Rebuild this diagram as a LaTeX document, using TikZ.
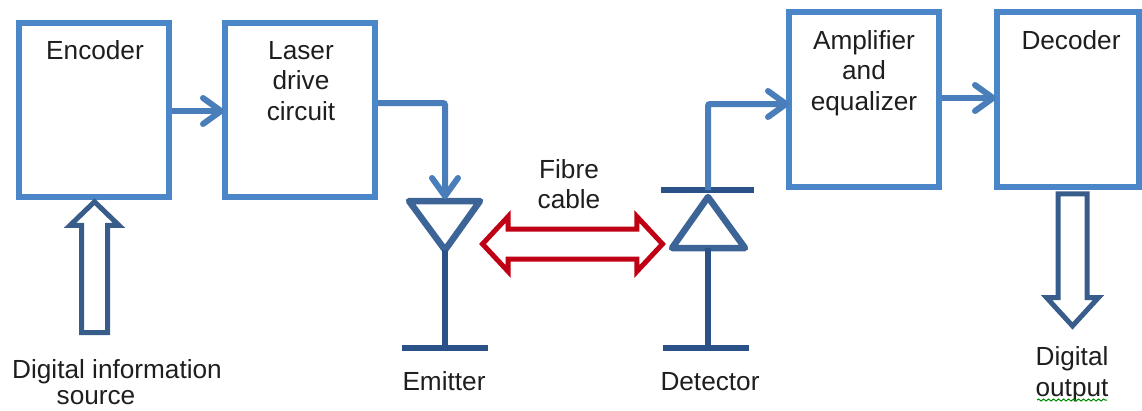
\documentclass[tikz,border=0pt]{standalone}
\usepackage{fontspec}
\setmainfont{Liberation Sans}
\usetikzlibrary{arrows.meta,shapes.arrows,decorations.pathmorphing}
\definecolor{boxblue}{HTML}{4A86C8}
\definecolor{wireblue}{HTML}{4A7EBB}
\definecolor{darkblue}{HTML}{2A5288}
\definecolor{triblue}{HTML}{3C6496}
\definecolor{hollowblue}{HTML}{385D8A}
\definecolor{fibrered}{HTML}{C00014}
\definecolor{inktext}{HTML}{1E1E1E}
\tikzset{
  blockbox/.style={draw=boxblue,line width=6.5pt,rectangle,outer sep=0pt,inner sep=0pt},
  wire/.style={draw=wireblue,line width=6pt,rounded corners=2pt,
     -{Straight Barb[length=18pt,width=26pt,line width=6pt,line cap=round,round]}},
  darkline/.style={draw=darkblue,line width=6pt},
  tri/.style={draw=triblue,line width=6.5pt,line join=round},
  label/.style={font=\fontsize{26.2pt}{30.5pt}\selectfont,text=inktext,align=center,inner sep=0pt},
  hollow/.style={shape=single arrow,draw=hollowblue,line width=5pt,outer sep=0pt},
  fibrearrow/.style={shape=double arrow,draw=fibrered,line width=5pt,outer sep=0pt},
}
\begin{document}
\begin{tikzpicture}[x=1pt,y=-1pt]
\useasboundingbox (0,0) rectangle (1142,410);
% boxes
\node[blockbox,minimum width=150pt,minimum height=174pt] (enc) at (94,110) {};
\node[blockbox,minimum width=150pt,minimum height=174pt] (las) at (300,110) {};
\node[blockbox,minimum width=150pt,minimum height=175pt] (amp) at (864,99.5) {};
\node[blockbox,minimum width=142pt,minimum height=175pt] (dec) at (1068,99.5) {};
% box texts
\node[label] (enctext) at (95,50) {Encoder};
\node[label] (lastext) at (301,81) {Laser\\drive\\circuit};
\node[label] (amptext) at (864,73) {Amplifier\\and\\equalizer};
\node[label] (dectext) at (1071,40) {Decoder};
% emitter
\coordinate (emL) at (409,201);
\coordinate (emR) at (480,201);
\coordinate (emTop) at (445,199);
\coordinate (emApex) at (445,250);
\coordinate (emGnd) at (445,348);
\coordinate (emGndL) at (402,348);
\coordinate (emGndR) at (488,348);
\draw[tri] (emL) -- (emR) -- (emApex) -- cycle;
\draw[darkline] (emApex) -- (emGnd);
\draw[darkline] (emGndL) -- (emGndR);
% detector
\coordinate (deTop) at (708,190);
\coordinate (deBarL) at (661,190);
\coordinate (deBarR) at (754,190);
\coordinate (deApex) at (708,197);
\coordinate (deL) at (672,248);
\coordinate (deR) at (745,248);
\coordinate (deBase) at (708,248);
\coordinate (deGnd) at (708,348);
\coordinate (deGndL) at (663,348);
\coordinate (deGndR) at (749,348);
\draw[darkline] (deBarL) -- (deBarR);
\draw[tri] (deL) -- (deR) -- (deApex) -- cycle;
\draw[darkline] (deBase) -- (deGnd);
\draw[darkline] (deGndL) -- (deGndR);
% wires
\coordinate (encOut) at (172,111);
\coordinate (lasIn) at (224,111);
\coordinate (lasOut) at (378,103);
\coordinate (ampIn) at (789,104);
\coordinate (ampOut) at (942,98);
\coordinate (decIn) at (996,98);
\draw[wire] (encOut) -- (lasIn);
\draw[wire] (lasOut) -| (emTop);
\draw[wire] (deTop) |- (ampIn);
\draw[wire] (ampOut) -- (decIn);
% block arrows
\node[hollow,rotate=90,minimum height=131pt,minimum width=44pt,inner sep=10.5pt,
  single arrow head extend=11.5pt,single arrow tip angle=92] (srcarrow) at (94.5,273.5) {};
\node[hollow,rotate=-90,minimum height=132pt,minimum width=47pt,inner sep=12pt,
  single arrow head extend=11.5pt,single arrow tip angle=85] (outarrow) at (1072.5,252) {};
\node[fibrearrow,minimum height=180pt,minimum width=50pt,inner sep=12.5pt,
  double arrow head extend=12.5pt,double arrow tip angle=94] (fibre) at (572.5,244) {};
% labels
\node[label] (fibretext) at (569,184) {Fibre\\cable};
\node[label,anchor=base] (emtext) at (444,390) {Emitter};
\node[label,anchor=base] (detext) at (710,390) {Detector};
\node[label,anchor=base] (srctext1) at (117,378) {Digital information};
\node[label,anchor=base] (srctext2) at (96,404) {source};
\node[label,anchor=base] (outtext1) at (1072,365) {Digital};
\node[label,anchor=base] (outtext2) at (1072,396) {output};
\coordinate (sqL) at (1037,400);
\coordinate (sqR) at (1107,400);
\draw[draw=green!55!black,line width=1pt,decorate,decoration={snake,amplitude=1pt,segment length=5pt}] (sqL) -- (sqR);
\end{tikzpicture}
\end{document}
